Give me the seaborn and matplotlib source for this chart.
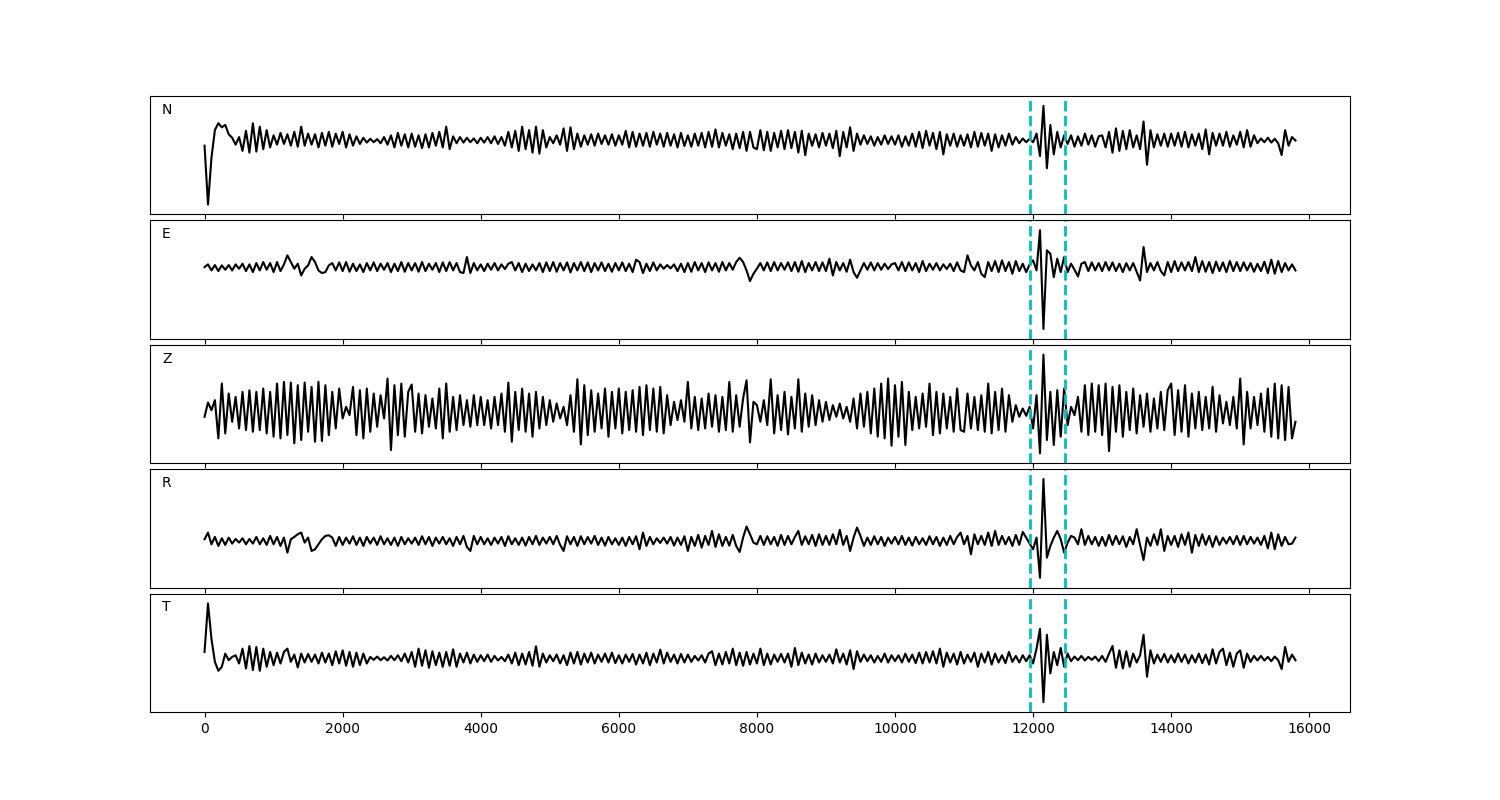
import numpy as np
import seaborn as sns
import matplotlib.pyplot as plt

# sample spacing of the traces
dt = 50

# amplitudes (arbitrary units, one value per sample)
n_trace = [
    -15, -185, -50, 30, 50, 38, 45, 18, 8, -12, 10, -30, 28, -35, 50, -32, 40, -25, 30, -20,
    15, -12, 22, -10, 18, -15, 25, -18, 40, -15, 20, -12, 18, -20, 22, -15, 25, -18, 20, -10,
    25, -20, 18, -15, 12, -10, 8, -6, 5, -5, 4, -8, 10, -12, 15, -20, 22, -15, 18, -20,
    20, -18, 15, -22, 18, -20, 22, -15, 25, -20, 40, -25, 12, -8, 10, -6, 8, -5, 6, -8,
    8, -6, 10, -8, 12, -10, 10, -15, 25, -20, 28, -30, 40, -25, 30, -35, 40, -38, 30, -20,
    10, -8, 15, -12, 35, -30, 38, -25, 20, -18, 15, -12, 18, -15, 20, -10, 15, -12, 18, -15,
    15, -12, 28, -20, 25, -18, 20, -15, 22, -18, 25, -12, 20, -18, 22, -15, 18, -20, 22, -16,
    15, -18, 20, -15, 22, -20, 25, -18, 32, -20, 22, -15, 18, -25, 20, -22, 25, -30, 25, -20,
    -25, 30, -28, 25, -30, 22, -20, 28, -25, 30, -22, 25, -35, 28, -42, 20, -15, 18, -20, 22,
    -15, 20, -22, 28, -45, 25, -20, 38, -30, 20, -12, 15, -10, 12, -15, 10, -12, 15, -10, 12,
    -12, 15, -18, 12, -15, 20, -18, 25, -22, 28, -15, 22, -25, 25, -40, 18, -15, 20, -18, 15,
    -15, 18, -20, 25, -18, 22, -15, 20, -30, 18, -20, 15, -15, 20, -12, 10, -8, 6, -5, 5,
    -5, 20, -45, 100, -80, 45, -40, 25, -20, 15, -10, 15, -18, 12, -15, 20, -12, 15, -18, 12,
    15, -20, 25, -35, 35, -30, 28, -25, 30, -20, 15, -25, 55, -70, 30, -20, 18, -15, 20, -18,
    20, -15, 22, -18, 25, -20, 18, -15, 20, -25, 32, -40, 22, -15, 20, -15, 25, -18, 15, -12,
    25, -20, 30, -18, 15, -8, 6, -5, 8, -6, 5, -8, -42, 30, -15, 10, 0,
]

e_trace = [
    0, 8, -10, 6, -12, 5, -8, 6, -10, 8, -5, 10, -12, 8, -15, 12, -10, 15, -8, 12,
    -15, 15, -12, 8, 35, 15, -5, 10, -25, -5, 5, 30, 15, -10, -18, -15, 5, 12, -10, 14,
    -12, 15, -14, 10, -12, 8, -15, 12, -10, 14, -12, 10, -8, 12, -15, 10, -12, 15, -14, 12,
    -10, 12, -14, 15, -12, 10, -8, 12, -15, 14, -12, 15, -10, 12, -15, -18, 30, -18, 12, -10,
    8, -12, 10, -8, 12, -10, 8, -6, 10, 15, -10, 12, -15, 10, -12, 8, -10, 12, -15, 14,
    -12, 15, -14, 12, -10, 14, -16, 12, -10, 15, -12, 14, -15, 12, -10, 14, -12, 10, -14, 12,
    -10, 14, -12, 10, -15, 22, 15, -18, 10, -12, 14, -10, 8, -5, 6, -4, 8, -12, 10, -15,
    12, -14, 15, -10, 12, -15, 14, -10, 12, -14, 15, -10, 12, -8, 15, 28, 15, -10, -42, -20,
    -5, 12, -10, 14, -12, 15, -10, 12, -8, 14, -12, 15, -14, 18, -15, 12, -10, 15, -12, 14,
    -12, 25, -25, 15, -10, 12, -14, 22, -15, -32, -10, 12, -8, 14, -10, 12, -8, 10, -6, 8,
    12, -10, 15, -12, 14, -10, 12, -15, 18, -12, 10, -8, 12, -10, 8, -6, 10, -12, 14, -10,
    -15, 35, 5, -10, 15, -20, -30, 15, -12, 18, -15, 20, -12, 15, -20, 18, -12, 10, -15, 8,
    20, -10, 110, -185, 50, 40, -30, 25, -15, 30, -15, 10, -8, -28, 10, 15, -12, 14, -10, 12,
    -12, 15, -10, 14, -12, 10, -15, 12, -10, 12, -14, -40, 60, -15, 12, -10, 15, -12, -25, 15,
    -15, 18, -12, 14, -10, 15, -12, 30, -15, 18, -14, 15, -18, 16, -12, 14, -15, 18, -12, 15,
    -12, 14, -10, 12, -14, 10, -12, 16, -18, 22, -20, 18, -15, 12, -10, 8, -10,
]

z_trace = [
    -15, 28, 5, 35, -80, 85, -65, 55, -30, 45, -50, 60, -55, 65, -60, 60, -55, 70, -65, 60,
    -75, 85, -80, 90, -70, 88, -95, 80, -85, 88, -60, 75, -90, 90, -88, 80, -70, 60, -50, 70,
    -20, 15, -10, 75, -70, 65, -80, 70, -60, 55, -45, 50, -20, 100, -115, 80, -70, 85, -75, 60,
    82, -60, 55, -65, 50, -45, 40, -50, 70, -80, 85, -60, 45, -55, 50, -40, 35, -45, 50, -40,
    45, -40, 35, -50, 45, -40, 55, -60, 88, -90, 60, -55, 70, -60, 55, -75, 60, -50, 45, -40,
    35, -30, 25, -20, 15, -40, 50, -60, 98, -98, 80, -70, 65, -60, 55, -50, 70, -75, 60, -50,
    70, -65, 60, -55, 65, -60, 75, -70, 80, -55, 70, -60, 75, -65, 50, -40, 30, -25, 35, -30,
    90, -50, 45, -55, 40, -50, 55, -45, 50, -60, 45, -55, 90, -60, 50, -45, 40, 95, -92, 30,
    20, -30, 35, -40, 98, -65, 50, -55, 60, -68, 45, -50, 98, -60, 55, -45, 50, -40, 35, -30,
    30, -25, 20, -15, 25, -20, 15, -30, 40, -50, 55, -45, 60, -65, 70, -75, 85, -80, 100, -102,
    80, -75, 90, -100, 60, -55, 45, -50, 55, -45, 85, -70, 60, -65, 55, -50, 45, -60, 70, -55,
    -60, 55, -50, 45, -55, 50, -60, 85, -65, 60, -55, 70, -60, 50, -30, 20, -15, 10, -12, 15,
    -50, 50, -125, 172, -85, 60, -100, 65, -75, 70, -40, 15, -10, 45, -60, 80, -70, 85, -60, 80,
    -70, 85, -118, 75, -60, 80, -75, 60, -55, 70, -65, 50, -45, 55, -60, 40, -50, 60, -55, 65,
    85, -70, 65, -60, 80, -75, 55, -50, 60, -55, 45, -50, 75, -60, 50, -35, 30, -40, 45, -50,
    100, -98, 60, -50, 45, -40, 55, -60, 70, -75, 85, -80, 80, -85, 75, -80, -30,
]

r_trace = [
    5, 25, -10, 12, -15, 8, -12, 10, -8, 6, -5, 8, -10, 6, -8, 12, -10, 8, -12, 15,
    -10, 12, -15, 10, -35, 5, 12, 20, 25, -5, 10, -30, -25, -10, 5, 15, 17, 10, -15, 12,
    -12, 10, -8, 14, -12, 10, -15, 12, -8, 10, -12, 14, -10, 8, -12, 10, -15, 12, -10, 8,
    -8, 10, -12, 14, -10, 12, -15, 10, -8, 12, -10, 8, -15, 12, -10, 15, -18, -30, 15, -10,
    12, -10, 8, -12, 10, -8, 12, -15, 14, -10, 8, -12, 10, -14, 12, -10, 15, -12, 10, -8,
    12, -10, 15, -12, -30, 14, -10, 12, -15, 14, -10, 12, -8, 15, -12, 10, -14, 12, -10, 8,
    -12, 10, -15, 12, -10, 14, -25, 25, -15, 12, -10, 8, -6, 10, -8, 12, -14, 10, -12, 14,
    -30, 12, -15, 18, -20, 15, -12, 30, -18, 20, -15, 12, -14, 18, -15, -33, 10, 43, 20, -5,
    -10, 15, -12, 14, -10, 12, -15, 18, -12, 15, -10, 12, 30, -12, 14, -10, 18, -15, 20, -12,
    15, -12, 20, -10, 33, -12, 15, -30, 10, 40, 15, -15, 10, -12, 14, -10, 12, -15, 10, -8,
    12, -10, 15, -12, 10, -14, 12, -10, 8, -12, 14, -10, 12, -15, 10, -12, 15, -10, 12, 25,
    -10, 15, -40, 20, -10, 15, -12, 25, -15, 30, -12, 15, -10, 12, -15, 18, -12, 27, 10, -8,
    -25, 10, -110, 185, -50, -15, 10, 30, 5, -35, -5, 15, 10, -10, 35, -12, 15, -10, 12, -15,
    12, -15, 18, -12, 15, -10, 14, -18, 12, -10, 35, -12, -57, 10, -15, 20, -12, 35, -30, 15,
    -12, 15, -18, 20, -12, 25, -35, 18, -15, 20, -12, 15, -18, 14, -12, 10, -8, 12, -10, 15,
    -12, 15, -10, 12, -8, 10, -12, 15, -22, 25, -25, 20, -15, 12, -10, -8, 10,
]

t_trace = [
    20, 167, 60, -10, -37, -25, 15, -5, 5, 10, -15, 30, -30, 38, -35, 35, -37, 30, -25, 20,
    -20, 18, -15, 20, 30, -10, 12, -27, 15, -12, 14, -10, 12, -15, 18, -12, 15, -20, 22, -15,
    25, -22, 20, -25, 18, -20, 15, -15, 5, -4, 6, -5, 4, -6, 8, -5, 10, -8, 15, -12,
    20, -25, 30, -22, 25, -28, 22, -20, 18, -25, 20, -22, 28, -25, 15, -12, 18, -15, 12, -10,
    10, -8, 12, -10, 8, -6, 5, -8, 12, -15, 18, -20, 15, -18, 20, -22, 37, -25, 15, -12,
    10, -8, 12, -15, 10, -20, 18, -15, 20, -18, 15, -12, 18, -15, 12, -10, 15, -12, 18, -14,
    10, -15, 12, -10, 14, -18, 12, -15, 18, -20, 15, -12, 27, -15, 18, -10, 12, -15, 14, -12,
    12, -10, 8, -6, 10, -12, 15, 22, -20, 15, -18, 20, -15, 30, -20, 18, -22, 20, -18, 15,
    -15, 30, -20, 15, -18, 12, -10, 14, -12, 15, -25, 32, -20, 18, -15, 12, -18, 15, -12, 10,
    -10, 12, -15, 28, -12, 15, -18, 25, -32, 22, -10, 12, -8, 10, -12, 8, -10, 15, -12, 10,
    -8, 10, -12, 15, -10, 12, -14, 18, -15, 20, -12, 22, -15, 30, -25, 18, -12, 15, -18, 20,
    -15, 12, -10, 18, -25, 15, -12, 20, -18, 15, -12, 10, -14, 20, -10, 8, -12, 10, -8, 10,
    -15, 30, 90, -132, 72, -45, 20, -20, 32, -25, 15, -8, 6, -5, 8, -6, 5, -4, 6, -8,
    8, -10, 15, 38, -28, 25, -30, 22, -25, 15, -12, 10, 72, -55, 25, -15, 12, -10, 14, -12,
    10, -12, 15, -10, 12, -15, 10, -12, 15, -14, 12, -18, 28, -15, 20, 30, -20, 18, -25, 15,
    25, -28, 15, -10, 8, -6, 8, -6, 5, -8, 6, -5, -32, 35, -10, 12, -5,
]

components = ['N', 'E', 'Z', 'R', 'T']
traces = [n_trace, e_trace, z_trace, r_trace, t_trace]
window = [11960, 12465]  # picked time window

time = np.arange(len(n_trace)) * dt

fig, axes = plt.subplots(5, 1, sharex=True, figsize=(15, 8))
fig.subplots_adjust(left=0.1, right=0.9, hspace=0.05)

for ax, comp, tr in zip(axes, components, traces):
    sns.lineplot(x=time, y=np.array(tr, dtype=float), ax=ax, color='k',
                 linewidth=1.5, legend=False)
    for t in window:
        ax.axvline(t, color='c', linestyle='--', linewidth=2)
    ax.margins(y=0.1)
    ax.set_yticks([])
    ax.set_ylabel('')
    ax.text(0.01, 0.85, comp, transform=ax.transAxes)

axes[-1].set_xticks(range(0, 16001, 2000))
plt.savefig('out.png', dpi=100)
